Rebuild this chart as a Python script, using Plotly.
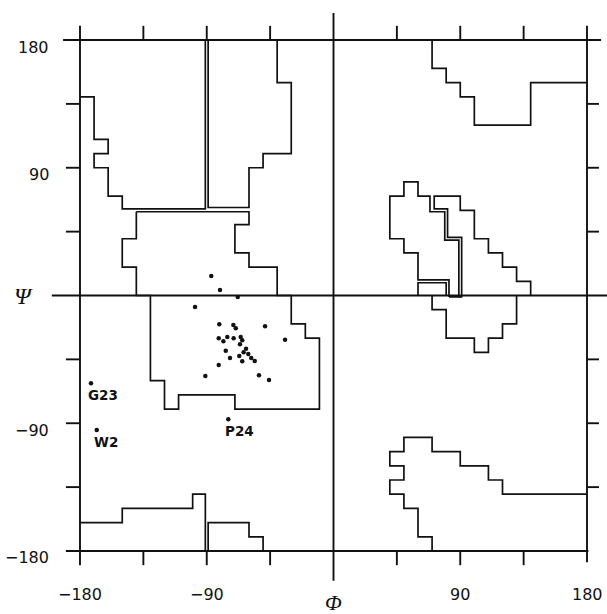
import plotly.graph_objects as go

# ---------------- data ----------------
# allowed-region outlines (phi, psi) in degrees
r1_phi = [-180, -170, -170, -160, -160, -170, -170, -160, -160, -150, -150, -91, -91]
r1_psi = [140, 140, 110, 110, 100, 100, 90, 90, 70, 70, 61, 61, 180]

r2_phi = [-89, -89, -60, -60, -50, -50, -30, -30, -40, -40]
r2_psi = [180, 62, 62, 90, 90, 100, 100, 150, 150, 180]

r3_phi = [-140, -60, -60, -70, -70, -60, -60, -40, -40, -30, -30, -20, -20, -10, -10,
          -70, -70, -110, -110, -120, -120, -130, -130, -140, -140, -150, -150, -140, -140]
r3_psi = [59, 59, 50, 50, 30, 30, 20, 20, 0, 0, -20, -20, -30, -30, -80,
          -80, -70, -70, -80, -80, -60, -60, 0, 0, 20, 20, 40, 40, 59]

r4_phi = [-180, -150, -150, -100, -100, -91, -91]
r4_psi = [-160, -160, -150, -150, -140, -140, -180]

r5_phi = [-89, -89, -60, -60, -50, -50]
r5_psi = [-180, -160, -160, -170, -170, -180]

r6_phi = [70, 70, 80, 80, 90, 90, 100, 100, 140, 140, 180]
r6_psi = [180, 160, 160, 150, 150, 140, 140, 120, 120, 150, 150]

r7_phi = [70, 70, 60, 60, 50, 50, 40, 40, 50, 50, 40, 40, 50, 50, 70, 70, 90, 90,
          110, 110, 120, 120, 180]
r7_psi = [-180, -170, -170, -150, -150, -140, -140, -130, -130, -120, -120, -110,
          -110, -100, -100, -110, -110, -120, -120, -130, -130, -140, -140]

r8_phi = [82, 82, 60, 60, 50, 50, 40, 40, 50, 50, 60, 60, 68.5, 68.5, 79, 79, 89, 89, 82]
r8_psi = [-1, 11, 11, 30, 30, 40, 40, 70, 70, 80, 80, 70, 70, 59, 59, 39, 39, -1, -1]

r9_phi = [89, 91, 91, 81, 81, 71.5, 71.5, 90, 90, 100, 100, 110, 110, 120, 120,
          130, 130, 140, 140]
r9_psi = [-1, -1, 41, 41, 61, 61, 70, 70, 60, 60, 40, 40, 30, 30, 20, 20, 10, 10, 0]

r10_phi = [60, 60, 80, 80]
r10_psi = [0, 9, 9, 0]

r11_phi = [70, 70, 80, 80, 100, 100, 110, 110, 120, 120, 130, 130]
r11_psi = [0, -10, -10, -30, -30, -40, -40, -30, -30, -20, -20, 0]

regions = [(r1_phi, r1_psi), (r2_phi, r2_psi), (r3_phi, r3_psi), (r4_phi, r4_psi),
           (r5_phi, r5_psi), (r6_phi, r6_psi), (r7_phi, r7_psi), (r8_phi, r8_psi),
           (r9_phi, r9_psi), (r10_phi, r10_psi), (r11_phi, r11_psi)]

# residue (phi, psi) points
res_phi = [-86.8, -80.6, -68.0, -98.3, -81.1, -71.1, -69.4, -48.6, -81.5, -78.2,
           -75.4, -70.9, -65.9, -64.8, -66.4, -34.4, -76.5, -62.1, -63.8, -60.5,
           -73.5, -66.9, -64.8, -58.4, -55.9, -81.5, -91.0, -52.9, -45.8]
res_psi = [13.7, 3.9, -1.1, -8.1, -20.3, -20.8, -23.1, -21.7, -30.2, -32.3,
           -29.2, -30.2, -29.2, -31.6, -34.4, -31.1, -38.9, -37.5, -40.0, -41.2,
           -44.0, -42.6, -46.4, -44.0, -46.1, -49.0, -56.7, -56.2, -59.5]

lab_names = ["G23", "W2", "P24"]
lab_phi = [-172.2, -168.1, -74.7]
lab_psi = [-61.9, -94.8, -87.2]

tick_vals = [-180, -135, -90, -45, 0, 45, 90, 135, 180]
x_label_vals = [-180, -90, 90, 180]
x_label_text = ["\u2212180", "\u221290", "90", "180"]
y_label_vals = [180, 90, -90, -180]
y_label_text = ["180", "90", "\u221290", "\u2212180"]

# ---------------- layout constants ----------------
X_RANGE = [-236.8, 194.2]
Y_RANGE = [-224.4, 208.2]
TICK = 10       # tick length (deg)
ZEXT = 19       # extension of zero lines (deg)
INK = "#111111"

fig = go.Figure()

# frame, zero lines and ticks
fx, fy = [], []
def seg(x0, y0, x1, y1):
    fx.extend([x0, x1, None]); fy.extend([y0, y1, None])

lo, hi = tick_vals[0], tick_vals[-1]
seg(lo - TICK - 2, hi, hi + TICK, hi)      # top
seg(lo - TICK, lo, hi + 1, lo)             # bottom
seg(lo, lo - TICK, lo, hi + TICK)          # left
seg(hi, lo - TICK * 0.8, hi, hi + TICK)    # right
seg(0, lo - ZEXT - 2, 0, hi + ZEXT)        # phi = 0
seg(lo - ZEXT - 1, 0, hi + ZEXT + 8, 0)    # psi = 0
for t in tick_vals[1:-1]:
    if t == 0:
        continue
    seg(t, hi, t, hi + TICK)      # top ticks
    seg(t, lo, t, lo - TICK)      # bottom ticks
    seg(lo, t, lo - TICK, t)      # left ticks
    seg(hi, t, hi + TICK * 0.85, t)  # right ticks
fig.add_trace(go.Scatter(x=fx, y=fy, mode="lines",
                         line=dict(color=INK, width=1.9), hoverinfo="skip"))

# region outlines
for px_, py_ in regions:
    fig.add_trace(go.Scatter(x=px_, y=py_, mode="lines",
                             line=dict(color=INK, width=1.7), hoverinfo="skip"))

# residues
fig.add_trace(go.Scatter(x=res_phi + lab_phi, y=res_psi + lab_psi, mode="markers",
                         marker=dict(color=INK, size=4.5)))

annotations = []
for name, x, y in zip(lab_names, lab_phi, lab_psi):
    annotations.append(dict(x=x, y=y, text="<b>%s</b>" % name, showarrow=False,
                            xanchor="left", yanchor="middle", xshift=-5, yshift=-12,
                            font=dict(family="DejaVu Sans", size=13.5, color=INK)))
for v, t in zip(x_label_vals, x_label_text):
    annotations.append(dict(x=v, y=lo, text=t, showarrow=False, xanchor="center",
                            yanchor="middle", yshift=-44,
                            font=dict(family="DejaVu Sans", size=16, color=INK)))
for v, t in zip(y_label_vals, y_label_text):
    annotations.append(dict(x=-200.5, y=v, text=t, showarrow=False, xanchor="right",
                            yanchor="middle", yshift=-7,
                            font=dict(family="DejaVu Sans", size=16, color=INK)))
annotations.append(dict(x=-219.8, y=0, text="<i>\u03a8</i>", showarrow=False,
                        xanchor="center", yanchor="middle",
                        font=dict(family="Liberation Serif", size=24, color=INK)))
annotations.append(dict(x=0, y=lo, text="<i>\u03a6</i>", showarrow=False,
                        xanchor="center", yanchor="middle", yshift=-52,
                        font=dict(family="Liberation Serif", size=22, color=INK)))

fig.update_layout(
    width=607, height=614,
    margin=dict(l=0, r=0, t=0, b=0, pad=0),
    paper_bgcolor="white", plot_bgcolor="white",
    showlegend=False,
    xaxis=dict(range=X_RANGE, visible=False, fixedrange=True),
    yaxis=dict(range=Y_RANGE, visible=False, fixedrange=True),
    annotations=annotations,
)

fig.write_html("out.html")
